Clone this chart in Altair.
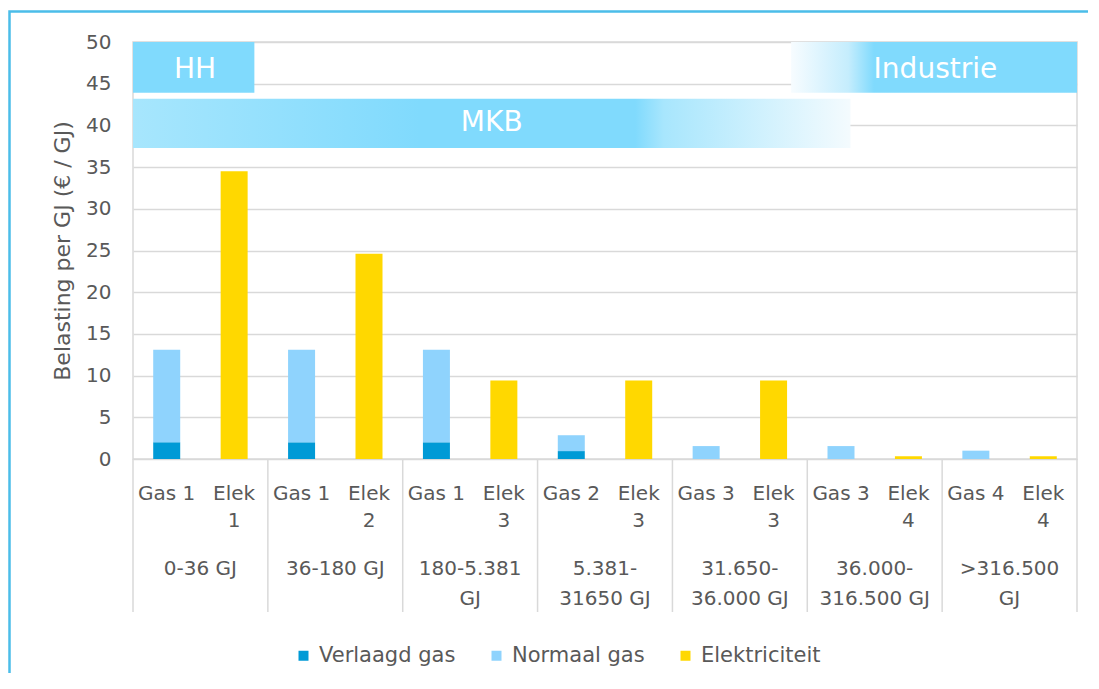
import altair as alt
import pandas as pd

# ---- data ----
group_line1 = ["0-36 GJ", "36-180 GJ", "180-5.381", "5.381-", "31.650-", "36.000-", ">316.500"]
group_line2 = ["", "", "GJ", "31650 GJ", "36.000 GJ", "316.500 GJ", "GJ"]
gas_labels = ["Gas 1", "Gas 1", "Gas 1", "Gas 2", "Gas 3", "Gas 3", "Gas 4"]
elek_line1 = ["Elek", "Elek", "Elek", "Elek", "Elek", "Elek", "Elek"]
elek_line2 = ["1", "2", "3", "3", "3", "4", "4"]
verlaagd_gas = [2.0, 2.0, 2.0, 0.95, 0.0, 0.0, 0.0]
normaal_gas = [11.1, 11.1, 11.1, 1.9, 1.55, 1.55, 1.0]
elektriciteit = [34.5, 24.6, 9.4, 9.4, 9.4, 0.33, 0.33]

series = ["Verlaagd gas", "Normaal gas", "Elektriciteit"]
series_colors = ["#009ad6", "#8fd3fd", "#ffd800"]

banner_names = ["HH", "MKB", "Industrie"]
banner_x0 = [0.0, 0.0, 4.88]
banner_x1 = [0.9, 5.32, 7.0]
banner_y0 = [43.9, 37.3, 43.9]
banner_y1 = [50.0, 43.2, 50.0]
banner_text_x = [0.46, 2.66, 5.95]
banner_text_y = [46.6, 40.3, 46.6]

y_ticks = [0, 5, 10, 15, 20, 25, 30, 35, 40, 45, 50]
Y_TITLE = "Belasting per GJ (€ / GJ)"

GRAY = "#595959"
GRID = "#d9d9d9"
W, H = 944, 417

# ---- tables ----
rows = []
for i in range(7):
    rows.append({"pos": i + 0.25, "series": series[0], "value": verlaagd_gas[i], "ord": 0})
    rows.append({"pos": i + 0.25, "series": series[1], "value": normaal_gas[i], "ord": 1})
    rows.append({"pos": i + 0.75, "series": series[2], "value": elektriciteit[i], "ord": 2})
bar_df = pd.DataFrame(rows)

lab_rows = []
for i in range(7):
    lab_rows.append({"pos": i + 0.25, "l1": gas_labels[i], "l2": ""})
    lab_rows.append({"pos": i + 0.75, "l1": elek_line1[i], "l2": elek_line2[i]})
lab_df = pd.DataFrame(lab_rows)

grp_df = pd.DataFrame({"pos": [i + 0.5 for i in range(7)], "l1": group_line1, "l2": group_line2})
sep_df = pd.DataFrame({"b": list(range(8))})
ban_df = pd.DataFrame({"name": banner_names, "x0": banner_x0, "x1": banner_x1,
                       "y0": banner_y0, "y1": banner_y1,
                       "tx": banner_text_x, "ty": banner_text_y})

xs = alt.Scale(domain=[0, 7], nice=False, zero=False, padding=0)
ys = alt.Scale(domain=[0, 50], nice=False, padding=0)

yaxis = alt.Axis(values=y_ticks, grid=True, gridColor=GRID, gridWidth=1.5,
                 domain=False, ticks=False, labelFontSize=20, labelColor=GRAY,
                 labelPadding=22, titleFontSize=22, titleColor=GRAY,
                 titleFontWeight="normal", titlePadding=11)

SOLID = "#80dafd"
grads = {
    "HH": alt.LinearGradient(gradient="linear", x1=0, x2=1, y1=0, y2=0,
                             stops=[alt.GradientStop(color=SOLID, offset=0),
                                    alt.GradientStop(color=SOLID, offset=1)]),
    "MKB": alt.LinearGradient(gradient="linear", x1=0, x2=1, y1=0, y2=0,
                              stops=[alt.GradientStop(color="#a7e6fd", offset=0),
                                     alt.GradientStop(color=SOLID, offset=0.40),
                                     alt.GradientStop(color=SOLID, offset=0.70),
                                     alt.GradientStop(color="#a8e6fd", offset=0.74),
                                     alt.GradientStop(color="#f4fbfe", offset=1)]),
    "Industrie": alt.LinearGradient(gradient="linear", x1=0, x2=1, y1=0, y2=0,
                                    stops=[alt.GradientStop(color="#f7fcff", offset=0),
                                           alt.GradientStop(color="#c5edfd", offset=0.2),
                                           alt.GradientStop(color=SOLID, offset=0.29),
                                           alt.GradientStop(color=SOLID, offset=1)]),
}

bars = alt.Chart(bar_df).mark_bar(size=27).encode(
    x=alt.X("pos:Q", scale=xs, axis=None),
    y=alt.Y("value:Q", stack="zero", scale=ys, title=Y_TITLE, axis=yaxis),
    color=alt.Color("series:N", scale=alt.Scale(domain=series, range=series_colors),
                    legend=alt.Legend(title=None, orient="none", legendX=160, legendY=603,
                                      direction="horizontal", symbolType="square",
                                      symbolSize=100, symbolStrokeWidth=0,
                                      labelFontSize=21, labelColor=GRAY, labelOffset=5,
                                      columnPadding=30, padding=0)),
    order=alt.Order("ord:Q"),
)

banner_layers = []
for name in banner_names:
    banner_layers.append(
        alt.Chart(ban_df).transform_filter(alt.datum.name == name)
        .mark_rect(fill=grads[name])
        .encode(x=alt.X("x0:Q", scale=xs, axis=None), x2="x1:Q",
                y=alt.Y("y0:Q", scale=ys, title=Y_TITLE, axis=yaxis), y2="y1:Q")
    )

banner_text = alt.Chart(ban_df).mark_text(color="white", fontSize=28, baseline="middle").encode(
    x=alt.X("tx:Q", scale=xs, axis=None),
    y=alt.Y("ty:Q", scale=ys, title=Y_TITLE, axis=yaxis),
    text="name:N",
)

seps = alt.Chart(sep_df).mark_rule(color=GRID, strokeWidth=1.5).encode(
    x=alt.X("b:Q", scale=xs, axis=None),
    y=alt.value(H), y2=alt.value(570),
)

lab1 = alt.Chart(lab_df).mark_text(fontSize=20, color=GRAY, baseline="alphabetic").encode(
    x=alt.X("pos:Q", scale=xs, axis=None), y=alt.value(458), text="l1:N")
lab2 = alt.Chart(lab_df).mark_text(fontSize=20, color=GRAY, baseline="alphabetic").encode(
    x=alt.X("pos:Q", scale=xs, axis=None), y=alt.value(485), text="l2:N")
grp1 = alt.Chart(grp_df).mark_text(fontSize=20, color=GRAY, baseline="alphabetic").encode(
    x=alt.X("pos:Q", scale=xs, axis=None), y=alt.value(533), text="l1:N")
grp2 = alt.Chart(grp_df).mark_text(fontSize=20, color=GRAY, baseline="alphabetic").encode(
    x=alt.X("pos:Q", scale=xs, axis=None), y=alt.value(563), text="l2:N")

frame = alt.Chart(pd.DataFrame({"k": [0]})).mark_rect(
    fillOpacity=0, stroke="#4bbde9", strokeWidth=2.5
).encode(x=alt.value(-123.5), x2=alt.value(975), y=alt.value(-30.5), y2=alt.value(700))

chart = alt.layer(
    bars, *banner_layers, banner_text, seps, lab1, lab2, grp1, grp2, frame
).properties(
    width=W, height=H,
    autosize=alt.AutoSizeParams(type="none"),
    padding={"left": 125, "top": 34, "right": 11, "bottom": 214},
).configure(font="DejaVu Sans").configure_view(stroke=GRID, strokeWidth=1.5)

chart.save("out.html", embed_options={"renderer": "svg", "actions": False})
